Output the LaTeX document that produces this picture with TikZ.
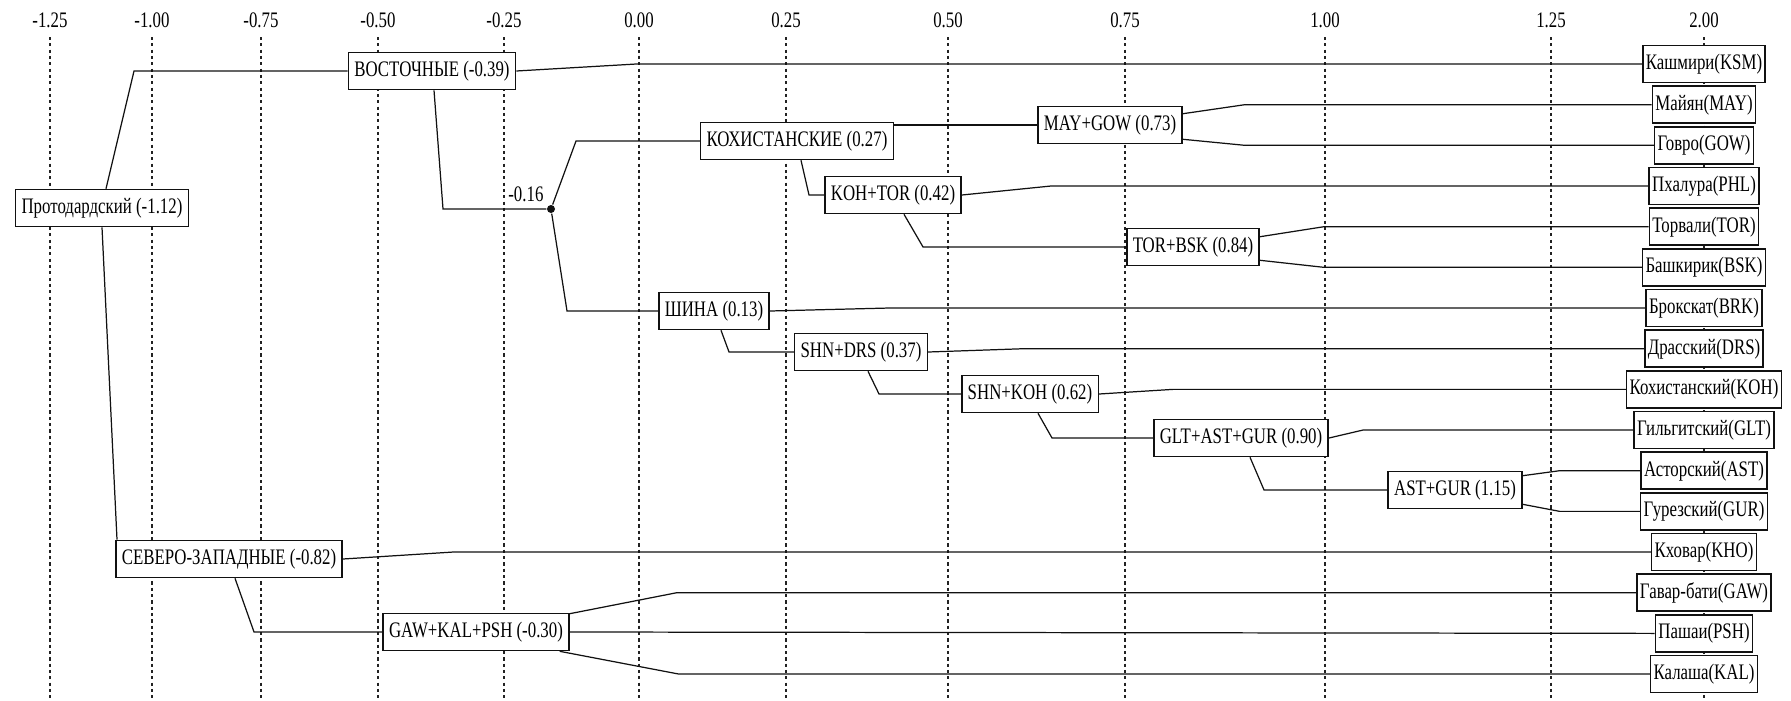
\documentclass[tikz,border=0pt]{standalone}
\usepackage{fontspec}
\setmainfont[FakeStretch=0.76]{Liberation Serif}
\usepackage{tikz}
\usetikzlibrary{
  positioning,
  calc,
  backgrounds
}
\definecolor{treeBlack}{HTML}{111111}
\definecolor{gridBlack}{HTML}{222222}
\tikzset{
  clade/.style    = {rectangle, draw=treeBlack, fill=white, line width=0.45pt,
                     minimum height=0.37cm, inner xsep=0.06cm, inner ysep=0pt,
                     font=\fontsize{6.3}{7.5}\selectfont},
  leaf/.style     = {clade, inner xsep=0.03cm},
  branch/.style   = {draw=treeBlack, line width=0.35pt},
  gridline/.style = {draw=gridBlack, line width=0.3pt,
                     dash pattern=on 0.9pt off 0.9pt},
  scaleLabel/.style = {font=\fontsize{6.3}{7.5}\selectfont, inner sep=0pt},
  splitLabel/.style = {font=\fontsize{6.3}{7.5}\selectfont, inner sep=1pt}
}

\begin{document}
\begin{tikzpicture}[x=0.01cm, y=-0.01cm]
\useasboundingbox (0,0) rectangle (1791,700);

% inner clades
\node[clade] (proto)     at (102,208)  {Протодардский (-1.12)};
\node[clade] (eastern)   at (432,71)   {ВОСТОЧНЫЕ (-0.39)};
\node[clade] (kohist)    at (797,141)  {КОХИСТАНСКИЕ (0.27)};
\node[clade] (maygow)    at (1110,125) {MAY+GOW (0.73)};
\node[clade] (kohtor)    at (893,195)  {KOH+TOR (0.42)};
\node[clade] (torbsk)    at (1193,247) {TOR+BSK (0.84)};
\node[clade] (shina)     at (714,311)  {ШИНА (0.13)};
\node[clade] (shndrs)    at (861,352)  {SHN+DRS (0.37)};
\node[clade] (shnkoh)    at (1030,394) {SHN+KOH (0.62)};
\node[clade] (gltastgur) at (1241,438) {GLT+AST+GUR (0.90)};
\node[clade] (astgur)    at (1455,490) {AST+GUR (1.15)};
\node[clade] (nwestern)  at (229,559)  {СЕВЕРО-ЗАПАДНЫЕ (-0.82)};
\node[clade] (gkp)       at (476,632)  {GAW+KAL+PSH (-0.30)};
\node[circle, fill=treeBlack, inner sep=0pt, minimum size=0.08cm,
      label={[splitLabel]above left:-0.16}] (split) at (551,209) {};

% leaves
\foreach \code/\lang [count=\i from 0] in {KSM/Кашмири, MAY/Майян, GOW/Говро,
    PHL/Пхалура, TOR/Торвали, BSK/Башкирик, BRK/Брокскат, DRS/Драсский,
    KOH/Кохистанский, GLT/Гильгитский, AST/Асторский, GUR/Гурезский,
    KHO/Кховар, GAW/Гавар-бати, PSH/Пашаи, KAL/Калаша}
  \node[leaf] (\code) at (1704,64+40.67*\i) {\lang(\code)};

\begin{scope}[on background layer]
  % scale
  \foreach \lab/\xx [count=\i] in {-1.25/50, -1.00/152, -0.75/261, -0.50/378,
      -0.25/504, 0.00/639, 0.25/786, 0.50/948, 0.75/1125, 1.00/1325,
      1.25/1551, 2.00/1704} {
    \node[scaleLabel] (scale\i) at (\xx,20) {\lab};
    \draw[gridline] (\xx,37) -- (\xx,700);
  }

  % branches
  \draw[branch] ([xshift=0.04cm]proto.north) -- ([xshift=0.32cm]proto.north |- eastern.west) -- (eastern.west);
  \draw[branch] (proto.south) -- ([xshift=0.02cm]nwestern.north west);
  \draw[branch] (eastern.east) -- ([xshift=1.2cm]eastern.east |- KSM.west) -- (KSM.west);
  \draw[branch] ([xshift=0.02cm]eastern.south) -- ([xshift=0.11cm]eastern.south |- split) -- (split);
  \draw[branch] (split) -- ([xshift=0.25cm]split.center |- kohist.west) -- (kohist.west);
  \draw[branch] (split) -- ([xshift=0.16cm]split.center |- shina.west) -- (shina.west);
  \draw[branch] (kohist.east |- maygow.west) -- (maygow.west);
  \draw[branch] ([xshift=0.04cm]kohist.south) -- ([xshift=0.12cm]kohist.south |- kohtor.west) -- (kohtor.west);
  \draw[branch] ([yshift=-0.08cm]maygow.north east) -- ([xshift=0.62cm]maygow.east |- MAY.west) -- (MAY.west);
  \draw[branch] ([yshift=0.05cm]maygow.south east) -- ([xshift=0.62cm]maygow.east |- GOW.west) -- (GOW.west);
  \draw[branch] (kohtor.east) -- ([xshift=0.89cm]kohtor.east |- PHL.west) -- (PHL.west);
  \draw[branch] ([xshift=0.11cm]kohtor.south) -- ([xshift=0.3cm]kohtor.south |- torbsk.west) -- (torbsk.west);
  \draw[branch] ([yshift=-0.09cm]torbsk.north east) -- ([xshift=0.64cm]torbsk.east |- TOR.west) -- (TOR.west);
  \draw[branch] ([yshift=0.06cm]torbsk.south east) -- ([xshift=0.64cm]torbsk.east |- BSK.west) -- (BSK.west);
  \draw[branch] (shina.east) -- ([xshift=1.19cm]shina.east |- BRK.west) -- (BRK.west);
  \draw[branch] ([xshift=0.07cm]shina.south) -- ([xshift=0.15cm]shina.south |- shndrs.west) -- (shndrs.west);
  \draw[branch] (shndrs.east) -- ([xshift=0.96cm]shndrs.east |- DRS.west) -- (DRS.west);
  \draw[branch] ([xshift=0.07cm]shndrs.south) -- ([xshift=0.18cm]shndrs.south |- shnkoh.west) -- (shnkoh.west);
  \draw[branch] (shnkoh.east) -- ([xshift=0.74cm]shnkoh.east |- KOH.west) -- (KOH.west);
  \draw[branch] ([xshift=0.08cm]shnkoh.south) -- ([xshift=0.22cm]shnkoh.south |- gltastgur.west) -- (gltastgur.west);
  \draw[branch] (gltastgur.east) -- ([xshift=0.34cm]gltastgur.east |- GLT.west) -- (GLT.west);
  \draw[branch] ([xshift=0.09cm]gltastgur.south) -- ([xshift=0.23cm]gltastgur.south |- astgur.west) -- (astgur.west);
  \draw[branch] ([yshift=-0.05cm]astgur.north east) -- ([xshift=0.37cm]astgur.east |- AST.west) -- (AST.west);
  \draw[branch] ([yshift=0.05cm]astgur.south east) -- ([xshift=0.37cm]astgur.east |- GUR.west) -- (GUR.west);
  \draw[branch] (nwestern.east) -- ([xshift=1.1cm]nwestern.east |- KHO.west) -- (KHO.west);
  \draw[branch] ([xshift=0.06cm]nwestern.south) -- ([xshift=0.25cm]nwestern.south |- gkp.west) -- (gkp.west);
  \draw[branch] ([yshift=-0.01cm]gkp.north east) -- ([xshift=1.07cm]gkp.east |- GAW.west) -- (GAW.west);
  \draw[branch] (gkp.east) -- (PSH.west);
  \draw[branch] ([xshift=-0.1cm]gkp.south east) -- ([xshift=1.09cm]gkp.east |- KAL.west) -- (KAL.west);
\end{scope}
\end{tikzpicture}
\end{document}
